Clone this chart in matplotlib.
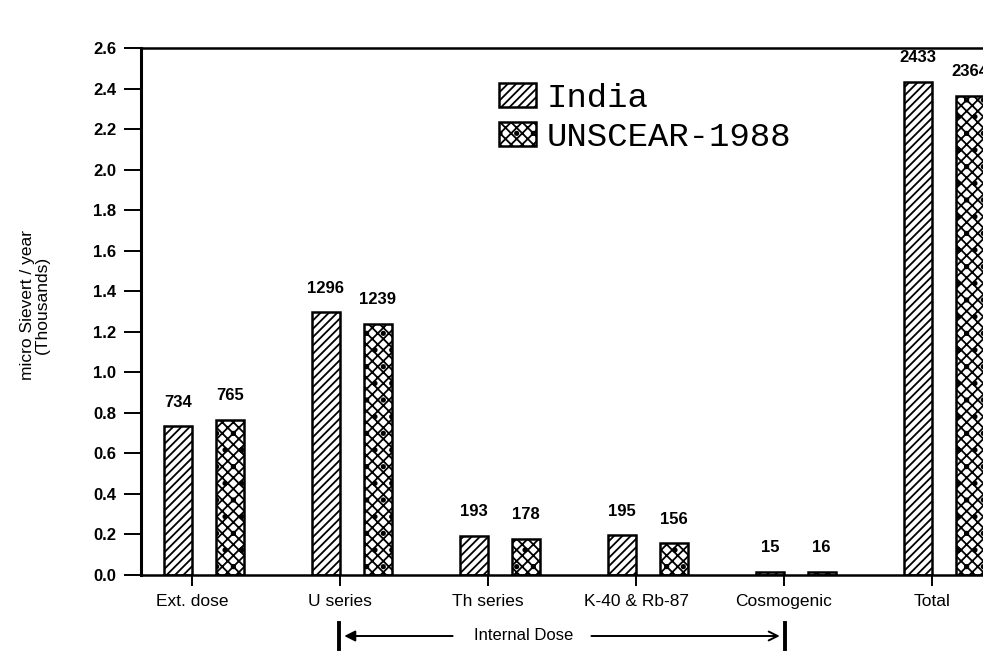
import matplotlib
matplotlib.use("Agg")
import matplotlib.pyplot as plt
import matplotlib.transforms as mtransforms
import numpy as np

categories = ["Ext. dose", "U series", "Th series", "K-40 & Rb-87", "Cosmogenic", "Total"]
india = [734, 1296, 193, 195, 15, 2433]
unscear = [765, 1239, 178, 156, 16, 2364]
series_names = ["India", "UNSCEAR-1988"]
yticks = [0.0, 0.2, 0.4, 0.6, 0.8, 1.0, 1.2, 1.4, 1.6, 1.8, 2.0, 2.2, 2.4, 2.6]

plt.rcParams['hatch.linewidth'] = 1.3
plt.rcParams['font.family'] = ['Liberation Sans', 'DejaVu Sans']

W, H = 983, 653
fig = plt.figure(figsize=(W / 100, H / 100), dpi=100)
left, right, bottom, top = 141, 1000, 575, 48
ax = fig.add_axes([left / W, 1 - bottom / H, (right - left) / W, (bottom - top) / H])

x = np.arange(len(categories))
w = 0.19
gap = 0.16
iv = np.array(india) / 1000.0
uv = np.array(unscear) / 1000.0
b1 = ax.bar(x, iv, width=-w, align='edge', facecolor='white', edgecolor='black',
            linewidth=1.8, hatch='////', label=series_names[0])
b2 = ax.bar(x + gap, uv, width=w, align='edge', facecolor='white', edgecolor='black',
            linewidth=1.8, hatch='xxx.', label=series_names[1])

for rect, v in zip(b1, india):
    ax.annotate(str(v), (rect.get_x() + rect.get_width() / 2, rect.get_height()),
                xytext=(0, 12), textcoords='offset points', ha='center', va='bottom',
                fontsize=12, fontweight='bold', annotation_clip=False)
for rect, v in zip(b2, unscear):
    ax.annotate(str(v), (rect.get_x() + rect.get_width() / 2, rect.get_height()),
                xytext=(0, 12), textcoords='offset points', ha='center', va='bottom',
                fontsize=12, fontweight='bold', annotation_clip=False)

ax.set_xlim(-(192 - left) / 148, (right - 192) / 148)
ax.set_ylim(0, 2.6)
ax.set_yticks(yticks)
ax.set_yticklabels([f"{t:.1f}" for t in yticks], fontsize=12, fontweight='bold')
ax.set_xticks(x)
ax.set_xticklabels(categories, fontsize=12.5)
ax.tick_params(axis='y', direction='out', length=12, width=1.4, pad=6)
ax.tick_params(axis='x', direction='out', length=8, width=1.4, pad=6)

ax.spines['right'].set_visible(False)
ax.spines['left'].set_linewidth(2.2)
ax.spines['bottom'].set_linewidth(1.8)
ax.spines['top'].set_linewidth(1.8)

fig.text(35 / W, 1 - 305 / H, "micro Sievert / year\n(Thousands)", rotation=90,
         ha='center', va='center', fontsize=12.5, linespacing=1.05)

leg = fig.legend(handles=[b1, b2], labels=series_names, loc='upper left',
                 bbox_to_anchor=(482 / W, 1 - 66 / H), frameon=False,
                 prop={'family': 'Liberation Mono', 'size': 24.5},
                 handlelength=1.1, handleheight=0.7, handletextpad=0.3,
                 labelspacing=0.22, borderpad=0)

# Internal dose span annotation
trans = mtransforms.blended_transform_factory(ax.transData, ax.transAxes)
ya = -(636 - bottom) / (bottom - top)
ax.text(2.24, ya, "Internal Dose", transform=trans, ha='center', va='center', fontsize=12)
ax.annotate("", xy=(1.01, ya), xytext=(1.78, ya), xycoords=trans, textcoords=trans,
            arrowprops=dict(arrowstyle='-|>', color='black', lw=1.4, mutation_scale=16),
            annotation_clip=False)
ax.annotate("", xy=(3.99, ya), xytext=(2.68, ya), xycoords=trans, textcoords=trans,
            arrowprops=dict(arrowstyle='->', color='black', lw=1.4, mutation_scale=16),
            annotation_clip=False)
for xp in (0.99, 4.01):
    ax.plot([xp, xp], [ya - 0.025, ya + 0.025], transform=trans, color='black', lw=2.8,
            clip_on=False)

fig.savefig("out.png", dpi=100)
